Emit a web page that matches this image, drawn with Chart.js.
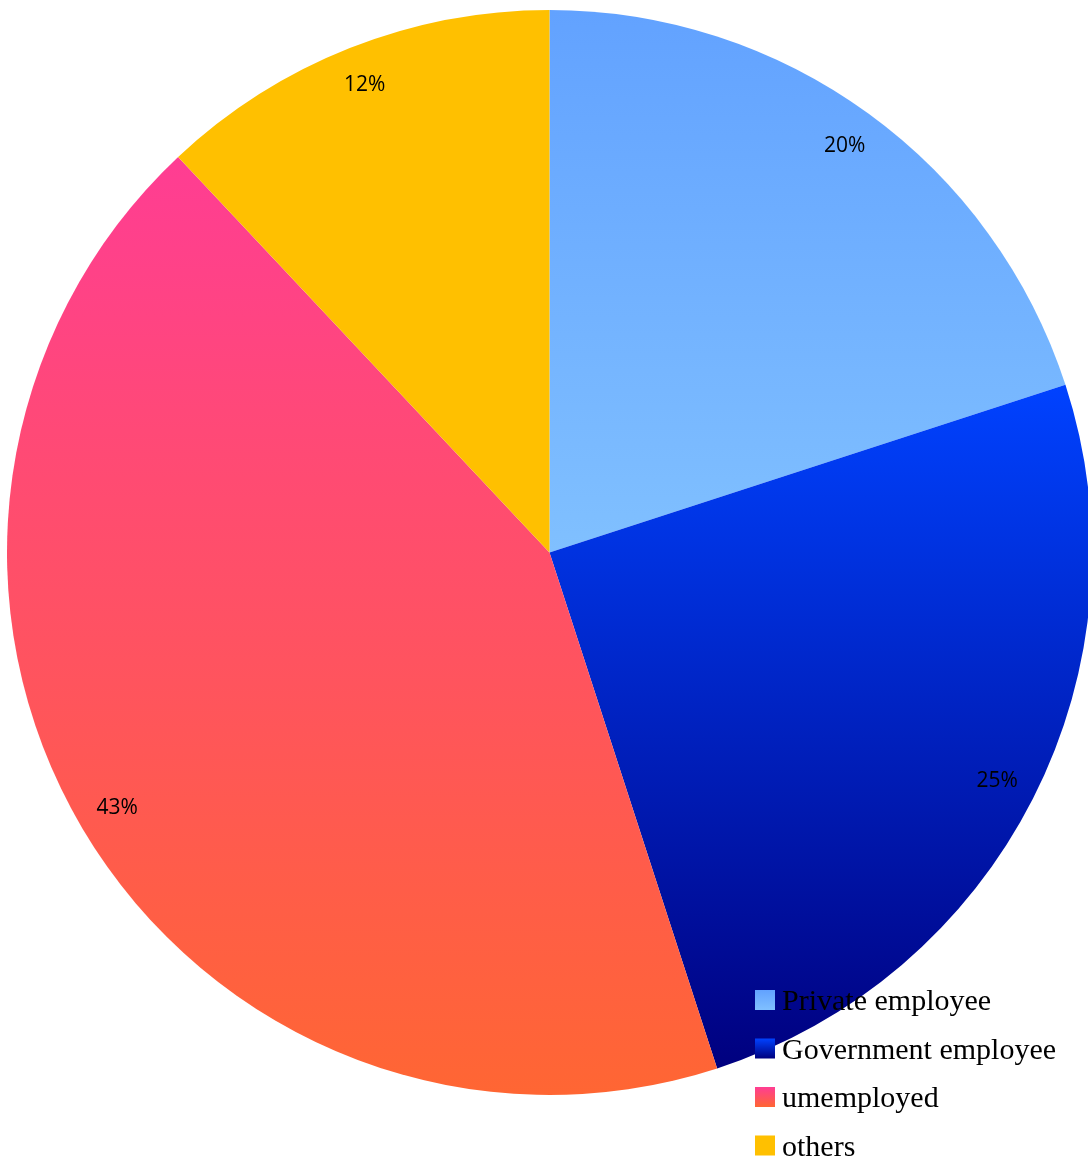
<!DOCTYPE html>
<html lang="en">
<head>
    <meta charset="UTF-8">
    <title>Employment status</title>
    <script src="https://cdn.jsdelivr.net/npm/chart.js@4.4.1/dist/chart.umd.min.js"></script>
    <style>
        html, body {
            margin: 0;
            padding: 0;
            background: #ffffff;
            overflow: hidden;
        }
        .chart-container {
            position: relative;
            width: 1092px;
            height: 1163px;
        }
    </style>
</head>
<body>
    <div class="chart-container">
        <canvas id="pieChart"></canvas>
    </div>

    <script>
        // Share of respondents by employment status (percent)
        const categories = ['Private employee', 'Government employee', 'umemployed', 'others'];
        const shares = [20, 25, 43, 12];
        const shareLabels = ['20%', '25%', '43%', '12%'];

        // Each slice is shaded top-to-bottom between these two colours
        const topColors = ['#62a2ff', '#0042ff', '#ff3d93', '#ffc000'];
        const bottomColors = ['#80c0ff', '#00007f', '#ff6633', '#ffc000'];

        const total = shares.reduce((a, b) => a + b, 0);

        // vertical extent of a slice, angles measured clockwise from 12 o'clock
        function sliceExtent(i, cy, r) {
            let before = 0;
            for (let k = 0; k < i; k++) before += shares[k];
            const a0 = before / total * 2 * Math.PI;
            const a1 = (before + shares[i]) / total * 2 * Math.PI;
            const ys = [cy, cy - r * Math.cos(a0), cy - r * Math.cos(a1)];
            if (a0 <= Math.PI && a1 >= Math.PI) ys.push(cy + r);
            return [Math.min(...ys), Math.max(...ys)];
        }

        function sliceFill(c) {
            const chart = c.chart;
            const area = chart.chartArea;
            const i = c.dataIndex;
            if (!area) return topColors[i];
            const cy = (area.top + area.bottom) / 2;
            const r = Math.min(area.right - area.left, area.bottom - area.top) / 2;
            const [y0, y1] = sliceExtent(i, cy, r);
            const g = chart.ctx.createLinearGradient(0, y0, 0, y1);
            g.addColorStop(0, topColors[i]);
            g.addColorStop(1, bottomColors[i]);
            return g;
        }

        // percentage text inside each slice
        const sliceLabels = {
            id: 'sliceLabels',
            afterDatasetsDraw(chart) {
                const ctx = chart.ctx;
                const meta = chart.getDatasetMeta(0);
                ctx.save();
                ctx.font = '21px "Open Sans", sans-serif';
                ctx.fillStyle = '#000000';
                ctx.textAlign = 'center';
                ctx.textBaseline = 'middle';
                meta.data.forEach((arc, i) => {
                    const p = arc.getProps(['x', 'y', 'startAngle', 'endAngle', 'outerRadius'], true);
                    const mid = (p.startAngle + p.endAngle) / 2;
                    const d = p.outerRadius * 0.926;
                    ctx.fillText(shareLabels[i], p.x + Math.cos(mid) * d, p.y + Math.sin(mid) * d);
                });
                ctx.restore();
            }
        };

        // legend in the lower right corner, drawn over the pie
        const cornerLegend = {
            id: 'cornerLegend',
            afterDraw(chart) {
                const ctx = chart.ctx;
                const x = 755, firstTop = 990, step = 48.5, box = 20;
                ctx.save();
                ctx.font = '30px "Liberation Serif", "Times New Roman", serif';
                ctx.textAlign = 'left';
                ctx.textBaseline = 'alphabetic';
                categories.forEach((name, i) => {
                    const top = firstTop + i * step;
                    const g = ctx.createLinearGradient(0, top, 0, top + box);
                    g.addColorStop(0, topColors[i]);
                    g.addColorStop(1, bottomColors[i]);
                    ctx.fillStyle = g;
                    ctx.fillRect(x, top, box, box);
                    ctx.fillStyle = '#000000';
                    ctx.fillText(name, x + 27, top + box);
                });
                ctx.restore();
            }
        };

        new Chart(document.getElementById('pieChart'), {
            type: 'pie',
            data: {
                labels: categories,
                datasets: [{
                    data: shares,
                    backgroundColor: sliceFill,
                    borderWidth: 0
                }]
            },
            options: {
                responsive: true,
                maintainAspectRatio: false,
                animation: false,
                layout: {
                    padding: { left: 7, right: 0, top: 10, bottom: 68 }
                },
                plugins: {
                    legend: { display: false },
                    tooltip: { enabled: false }
                }
            },
            plugins: [sliceLabels, cornerLegend]
        });
    </script>
</body>
</html>
